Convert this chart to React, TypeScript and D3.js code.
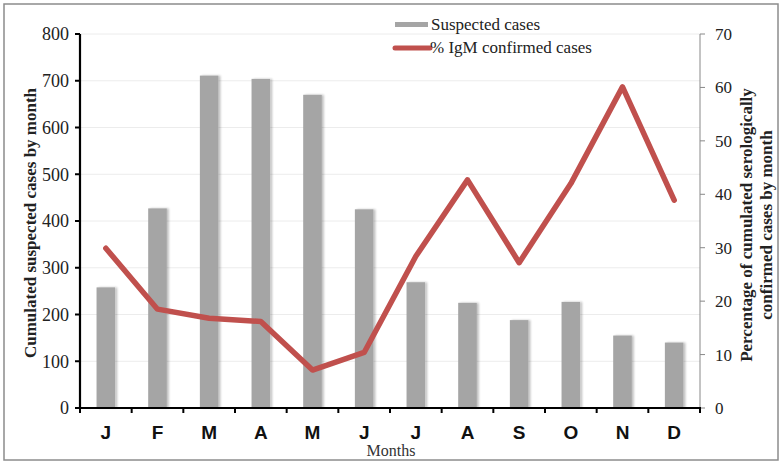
import React from "react";
import * as d3 from "d3";

const months = ["J", "F", "M", "A", "M ", "J ", "J  ", "A ", "S", "O", "N", "D"];
const monthLabels = ["J", "F", "M", "A", "M", "J", "J", "A", "S", "O", "N", "D"];
const suspected = [258, 427, 711, 704, 670, 425, 269, 225, 188, 227, 155, 140];
const igmPct = [29.9, 18.5, 16.8, 16.2, 7.1, 10.4, 28.4, 42.7, 27.2, 42.0, 60.1, 38.9];
const leftTicks = [0, 100, 200, 300, 400, 500, 600, 700, 800];
const rightTicks = [0, 10, 20, 30, 40, 50, 60, 70];

const W = 783, H = 465;
const left = 80, right = 700, top = 34, bottom = 408;
const serif = "'Liberation Serif', 'Times New Roman', serif";
const sans = "'Liberation Sans', Arial, sans-serif";

export default function App() {
  const x = d3.scaleBand<string>().domain(months).range([left, right]).paddingInner(0).paddingOuter(0);
  const yL = d3.scaleLinear().domain([0, 800]).range([bottom, top]);
  const yR = d3.scaleLinear().domain([0, 70]).range([bottom, top]);
  const bw = x.bandwidth() * 0.36;
  const line = d3.line<number>()
    .x((_, i) => (x(months[i]) as number) + x.bandwidth() / 2)
    .y((d) => yR(d));
  const boundaries = d3.range(months.length + 1).map((i) => left + i * x.bandwidth());

  return (
    <svg width={W} height={H} style={{ position: "absolute", left: 0, top: 0 }}>
      <rect x={0} y={0} width={W} height={H} fill="#fff" />
      <rect x={4} y={4} width={774} height={456} fill="none" stroke="#8c8c8c" strokeWidth={1.5} />
      {leftTicks.map((t) => (
        <line key={"g" + t} x1={left} x2={right} y1={yL(t)} y2={yL(t)} stroke="#ececec" strokeWidth={1} />
      ))}
      <defs>
        <filter id="sh" x="-30%" y="-5%" width="160%" height="110%">
          <feGaussianBlur in="SourceAlpha" stdDeviation="1.2" />
          <feOffset dx="1.5" dy="0" result="b" />
          <feComponentTransfer><feFuncA type="linear" slope="0.25" /></feComponentTransfer>
          <feMerge><feMergeNode /><feMergeNode in="SourceGraphic" /></feMerge>
        </filter>
      </defs>
      {suspected.map((v, i) => (
        <rect key={"b" + i} x={(x(months[i]) as number) + (x.bandwidth() - bw) / 2} y={yL(v)}
          width={bw} height={bottom - yL(v)} fill="#a5a5a5" filter="url(#sh)" />
      ))}
      <path d={line(igmPct) || ""} fill="none" stroke="#c0504d" strokeWidth={5.5} strokeLinejoin="round" strokeLinecap="round" />
      {/* left axis */}
      <line x1={left} x2={left} y1={top} y2={bottom + 1} stroke="#000" strokeWidth={2.2} />
      {leftTicks.map((t) => (
        <g key={"l" + t}>
          <line x1={left - 5} x2={left} y1={yL(t)} y2={yL(t)} stroke="#000" strokeWidth={2} />
          <text x={69} y={yL(t)} dy="0.35em" textAnchor="end" fontFamily={serif} fontSize={18} fill="#222">{t}</text>
        </g>
      ))}
      {/* right axis */}
      <line x1={right} x2={right} y1={top} y2={bottom} stroke="#888" strokeWidth={1} />
      {rightTicks.map((t) => (
        <g key={"r" + t}>
          <line x1={right} x2={right + 5} y1={yR(t)} y2={yR(t)} stroke="#888" strokeWidth={1} />
          <text x={715} y={yR(t)} dy="0.35em" textAnchor="start" fontFamily={serif} fontSize={17} fill="#222">{t}</text>
        </g>
      ))}
      {/* x axis */}
      <line x1={left - 1} x2={right + 1} y1={bottom} y2={bottom} stroke="#000" strokeWidth={2.2} />
      {boundaries.map((b, i) => (
        <line key={"t" + i} x1={b} x2={b} y1={bottom} y2={bottom + 5} stroke="#000" strokeWidth={2} />
      ))}
      {months.map((m, i) => (
        <text key={"x" + i} x={(x(m) as number) + x.bandwidth() / 2} y={439} textAnchor="middle"
          fontFamily={sans} fontWeight="bold" fontSize={19} fill="#111">{monthLabels[i]}</text>
      ))}
      <text x={391} y={456} textAnchor="middle" fontFamily={serif} fontSize={16} fill="#333">Months</text>
      {/* axis titles */}
      <text transform="translate(36,223) rotate(-90)" textAnchor="middle" fontFamily={serif} fontWeight="bold" fontSize={17} fill="#222">
        Cumulated suspected cases by month
      </text>
      <text transform="translate(752,225) rotate(-90)" textAnchor="middle" fontFamily={serif} fontWeight="bold" fontSize={17} fill="#222">
        Percentage of cumulated serologically
      </text>
      <text transform="translate(772,225) rotate(-90)" textAnchor="middle" fontFamily={serif} fontWeight="bold" fontSize={17} fill="#222">
        confirmed cases by month
      </text>
      {/* legend */}
      <rect x={395} y={22} width={33} height={5} fill="#a5a5a5" />
      <text x={431} y={30} fontFamily={serif} fontSize={17} fill="#222">Suspected cases</text>
      <line x1={395} x2={430} y1={48} y2={48} stroke="#c0504d" strokeWidth={5} strokeLinecap="round" />
      <text x={430} y={53} fontFamily={serif} fontSize={17} fill="#222">% IgM confirmed cases</text>
    </svg>
  );
}
